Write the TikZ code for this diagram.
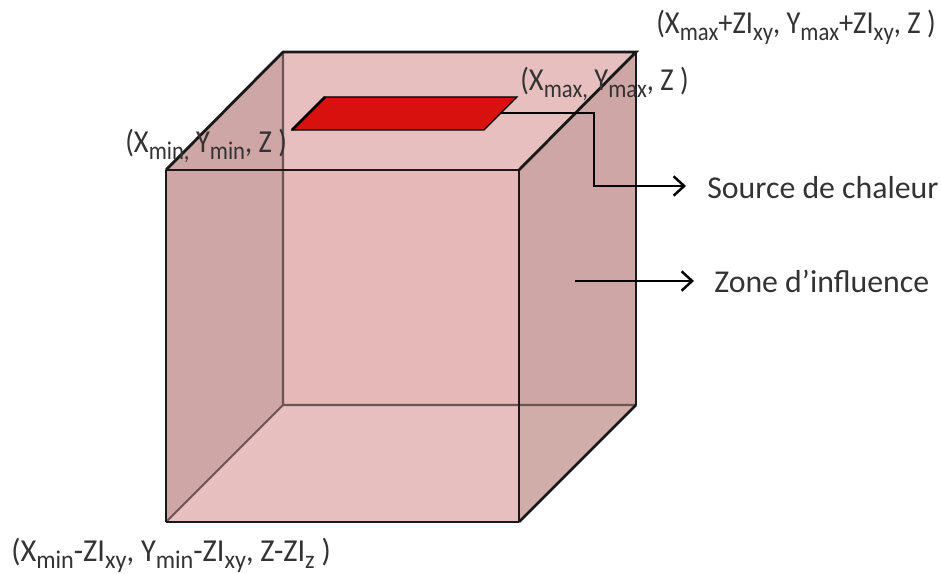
\documentclass[tikz,border=0pt]{standalone}
\usepackage{fontspec}
\setmainfont{Carlito}
\newfontfamily\tallfont[FakeStretch=0.89]{Carlito}
\newfontfamily\lowfont[FakeStretch=0.95]{Carlito}
\usepackage{tikz}
\usetikzlibrary{positioning,arrows.meta}
\definecolor{backpink}{HTML}{E6B8B7}
\definecolor{toppink}{HTML}{E8BFBF}
\definecolor{sidepink}{HTML}{CEA6A5}
\definecolor{lowpink}{HTML}{D1ADA9}
\definecolor{hotred}{HTML}{D8100E}
\newcommand{\lowtxt}[1]{\raisebox{-0.45ex}{\fontsize{14.5}{14.5}\selectfont #1}}

\begin{document}
\begin{tikzpicture}[x=0.02cm, y=-0.02cm,
    label/.style={inner sep=0pt, font=\fontsize{18.1}{20}\selectfont, text=black!80},
    corner/.style={label, font=\fontsize{18.2}{20}\selectfont\tallfont},
    edge/.style={line width=1.6pt, black!90},
    hidden/.style={line width=1.2pt, black!50!lowpink},
    pointer/.style={line width=1.4pt, -{Straight Barb[length=6pt,width=11pt]}}]
\useasboundingbox (0,0) rectangle (941,574);

% Corners of the box
\coordinate (fa) at (166,170);
\coordinate (fb) at (519,170);
\coordinate (fc) at (519,522);
\coordinate (fd) at (166,522);
\coordinate (ba) at (283,52);
\coordinate (bb) at (636,52);
\coordinate (bc) at (636,405);
\coordinate (bd) at (283,405);

% Faces
\fill[backpink] (ba) rectangle (bc);
\fill[toppink] (ba)--(bb)--(fb)--(fa)--cycle;
\fill[toppink] (bd)--(bc)--(fc)--(fd)--cycle;
\fill[sidepink] (fa)--(ba)--(bd)--(fd)--cycle;
\fill[sidepink] (fb)--(bb)--(bc)--(fc)--cycle;
\fill[lowpink] (519,405)--(bc)--(fc)--cycle;

% Hidden edges
\draw[hidden] (ba)--(bd) (bd)--(bc) (bd)--(fd);

% Visible edges
\draw[edge] (fa)--(fb) (fd)--(fc) (fa)--(fd);
\draw[edge, line width=1.2pt] (fb)--(fc);
\draw[edge] (fa)--(ba)--(bb)--(fb) (bc)--(fc);
\draw[edge, line width=1.2pt] (bb)--(bc);

% Heat source
\coordinate (sa) at (292,130);
\coordinate (sb) at (325,97);
\coordinate (sc) at (517,97);
\coordinate (sd) at (484,130);
\fill[hotred] (sa)--(sb)--(sc)--(sd)--cycle;
\draw[line width=0.7pt, black] (sa)--(sb)--(sc)--(sd)--cycle;
\draw[line width=1.6pt, black] (sa)--(sb);

% Pointers and their labels
\node[label, anchor=west] (source) at (707,188) {Source de chaleur};
\node[label, anchor=west] (zone) at (714,281) {Zone d’influence};
\coordinate (srcout) at (500,113);
\coordinate (srcend) at (686,186);
\coordinate (zonein) at (575,281);
\coordinate (zoneend) at (694,281);
\draw[pointer] (srcout)-|(594,186)--(srcend);
\draw[pointer] (zonein)--(zoneend);

% Corner labels
\node[corner, anchor=west] (cornertr) at (656,27) {(X\lowtxt{max}+ZI\lowtxt{xy}, Y\lowtxt{max}+ZI\lowtxt{xy}, Z )};
\node[corner, anchor=west] (cornerhi) at (520,84) {(X\lowtxt{max,} Y\lowtxt{max}, Z )};
\node[corner, anchor=west] (cornerlo) at (125,146) {(X\lowtxt{min,} Y\lowtxt{min}, Z )};
\node[corner, anchor=west, font=\fontsize{18.2}{20}\selectfont\lowfont] (cornerbl) at (11,555) {(X\lowtxt{min}-ZI\lowtxt{xy}, Y\lowtxt{min}-ZI\lowtxt{xy}, Z-ZI\lowtxt{z} )};
\end{tikzpicture}
\end{document}
